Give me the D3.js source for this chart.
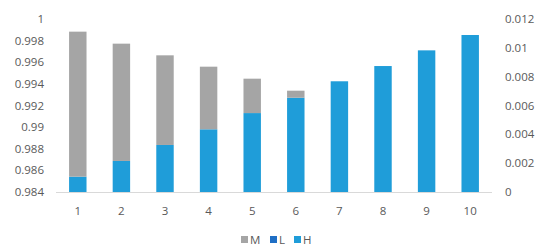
<!DOCTYPE html>
<html>
<head>
<meta charset="utf-8">
<script src="https://cdn.jsdelivr.net/npm/d3@7"></script>
<style>
  body { margin: 0; background: #fff; }
  text { font-family: "Open Sans", sans-serif; fill: #595959; }
</style>
</head>
<body>
<div id="chart"></div>
<script>
var categories = ["1", "2", "3", "4", "5", "6", "7", "8", "9", "10"],
	// H plotted from the 0.984 floor, M stacked on top of it
	hValues = [0.98542, 0.98687, 0.98835, 0.9898, 0.9913, 0.99272, 0.99424, 0.99565, 0.9971, 0.99852],
	mValues = [0.01341, 0.01085, 0.00829, 0.00579, 0.00318, 0.00065, 0, 0, 0, 0],
	leftTicks = [0.984, 0.986, 0.988, 0.99, 0.992, 0.994, 0.996, 0.998, 1],
	rightTicks = [0, 0.002, 0.004, 0.006, 0.008, 0.01, 0.012],
	legendItems = ["M", "L", "H"];

var width = 550,
	height = 251,
	colors = { M: "#a5a5a5", L: "#1f6fc5", H: "#1f9dd9" },

	svg = d3.select('#chart')
		.append('svg')
		.attr('width', width)
		.attr('height', height),

	x = d3.scaleBand()
		.domain(categories)
		.range([56, 492])
		.paddingInner(0.6)
		.paddingOuter(0.3),

	y = d3.scaleLinear().domain([0.984, 1]).range([192, 19]),
	y2 = d3.scaleLinear().domain([0, 0.012]).range([192, 19]);

// bars
var rows = categories.map(function(c, i) {
	return { cat: c, h: hValues[i], m: mValues[i] };
});

svg.append('g').selectAll('rect.h')
	.data(rows)
	.enter()
	.append('rect')
	.attr('x', function(d) { return x(d.cat); })
	.attr('width', x.bandwidth())
	.attr('y', function(d) { return y(d.h); })
	.attr('height', function(d) { return y(0.984) - y(d.h); })
	.style('fill', colors.H);

svg.append('g').selectAll('rect.m')
	.data(rows.filter(function(d) { return d.m > 0; }))
	.enter()
	.append('rect')
	.attr('x', function(d) { return x(d.cat); })
	.attr('width', x.bandwidth())
	.attr('y', function(d) { return y(d.h + d.m); })
	.attr('height', function(d) { return y(d.h) - y(d.h + d.m); })
	.style('fill', colors.M);

// baseline
svg.append('line')
	.attr('x1', 56).attr('x2', 492)
	.attr('y1', 192.5).attr('y2', 192.5)
	.style('stroke', '#d9d9d9')
	.style('stroke-width', 1);

// left axis
svg.append('g').selectAll('text')
	.data(leftTicks)
	.enter()
	.append('text')
	.attr('x', 44)
	.attr('y', function(d) { return y(d); })
	.attr('dy', '0.35em')
	.attr('text-anchor', 'end')
	.style('font-size', '11.5px')
	.text(function(d) { return String(+d.toFixed(3)); });

// right axis
svg.append('g').selectAll('text')
	.data(rightTicks)
	.enter()
	.append('text')
	.attr('x', 505)
	.attr('y', function(d) { return y2(d); })
	.attr('dy', '0.35em')
	.style('font-size', '11.5px')
	.text(function(d) { return String(+d.toFixed(3)); });

// category labels
svg.append('g').selectAll('text')
	.data(categories)
	.enter()
	.append('text')
	.attr('x', function(d) { return x(d) + x.bandwidth() / 2; })
	.attr('y', 211)
	.attr('dy', '0.35em')
	.attr('text-anchor', 'middle')
	.style('font-size', '11.5px')
	.text(function(d) { return d; });

// legend
var lx = [241, 270, 294];
var leg = svg.append('g').selectAll('g')
	.data(legendItems)
	.enter()
	.append('g')
	.attr('transform', function(d, i) { return 'translate(' + lx[i] + ',239.5)'; });

leg.append('rect')
	.attr('x', 0).attr('y', -3.5)
	.attr('width', 7).attr('height', 7)
	.style('fill', function(d) { return colors[d]; });

leg.append('text')
	.attr('x', 9)
	.attr('dy', '0.35em')
	.style('font-size', '11.5px')
	.text(function(d) { return d; });
</script>
</body>
</html>
